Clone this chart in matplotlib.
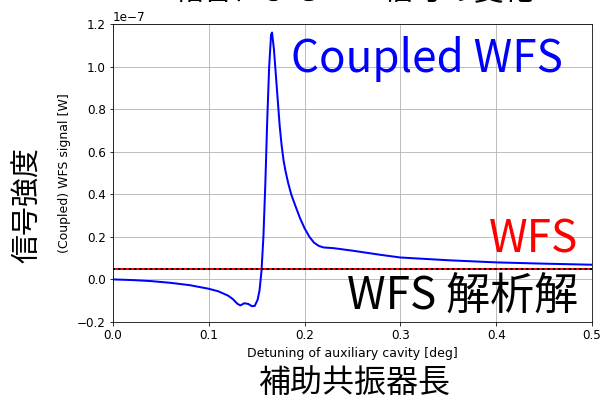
import matplotlib.pyplot as plt
import numpy as np

# values (signal in units of 1e-7 W)
detuning = [0.000, 0.020, 0.040, 0.060, 0.080, 0.100, 0.110, 0.120, 0.125,
            0.130, 0.133, 0.137, 0.141, 0.145, 0.148, 0.151, 0.153, 0.155,
            0.157, 0.159, 0.161, 0.163, 0.165, 0.166, 0.168, 0.170, 0.172,
            0.174, 0.176, 0.178, 0.180, 0.183, 0.186, 0.190, 0.195, 0.200,
            0.205, 0.210, 0.215, 0.220, 0.230, 0.250, 0.280, 0.300, 0.350,
            0.400, 0.450, 0.500]
coupled_wfs = [0.000, -0.003, -0.008, -0.016, -0.027, -0.044, -0.056, -0.076, -0.092,
               -0.115, -0.122, -0.112, -0.115, -0.126, -0.124, -0.095, -0.050, 0.040,
               0.200, 0.450, 0.750, 1.000, 1.150, 1.160, 1.080, 0.960, 0.840,
               0.720, 0.630, 0.560, 0.510, 0.450, 0.400, 0.350, 0.290, 0.240,
               0.200, 0.172, 0.157, 0.150, 0.147, 0.135, 0.115, 0.103, 0.090,
               0.080, 0.074, 0.069]
wfs_analytic = 0.05

SCALE = 1e-7
JP = ['Noto Sans CJK JP', 'DejaVu Sans']

plt.rcParams['xtick.labelsize'] = 12
plt.rcParams['ytick.labelsize'] = 12
plt.rcParams['axes.labelsize'] = 12.5

fig = plt.figure(figsize=(603 / 72, 398 / 72), dpi=72)
ax = fig.add_axes([0.1874, 0.191, 0.7944, 0.7487])

ax.plot(detuning, np.array(coupled_wfs) * SCALE, color='b', lw=2)
ax.axhline(wfs_analytic * SCALE, color='r', lw=2)
ax.axhline(wfs_analytic * SCALE, color='k', lw=2, ls=':')

ax.set_xlim(0, 0.5)
ax.set_ylim(-0.2 * SCALE, 1.2 * SCALE)
ax.grid(True)
ax.yaxis.get_offset_text().set_fontsize(12)
ax.set_xlabel("Detuning of auxiliary cavity [deg]", labelpad=5)
ax.set_ylabel("(Coupled) WFS signal [W]", labelpad=6)

ax.text(0.9395, 0.839, "Coupled WFS", color='b', fontsize=44, family=JP,
        ha='right', va='baseline', transform=ax.transAxes)
ax.text(0.971, 0.232, "WFS", color='r', fontsize=44, family=JP,
        ha='right', va='baseline', transform=ax.transAxes)
ax.text(0.971, 0.040, "WFS 解析解", color='k', fontsize=44, family=JP,
        ha='right', va='baseline', transform=ax.transAxes)

fig.text(0.0464, 0.485, "信号強度", fontsize=29, family=JP, rotation=90,
         ha='center', va='center')
fig.text(0.587, 0.037, "補助共振器長", fontsize=32, family=JP,
         ha='center', va='center')
fig.text(0.587, 1.0, "結合によるWFS信号の変化", fontsize=30, family=JP,
         ha='center', va='baseline')

fig.savefig("out.png", dpi=72)
